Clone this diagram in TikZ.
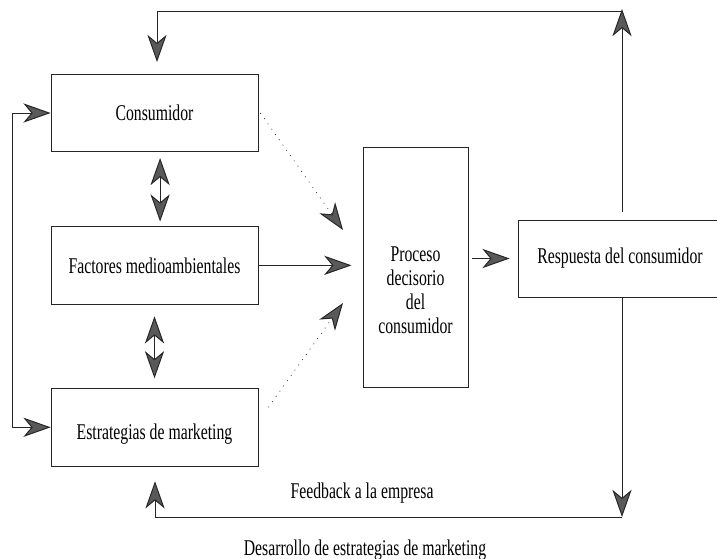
\documentclass[tikz,border=0pt]{standalone}
\usepackage{fontspec}
\setmainfont{Liberation Serif}[FakeStretch=0.7]
\usepackage{tikz}
\usetikzlibrary{arrows.meta}
\usetikzlibrary{positioning}
\usetikzlibrary{calc}
\tikzset{
  block_node/.style = {rectangle, draw=black!85, line width=0.5pt, inner sep=0pt,
    align=center, font=\fontsize{16}{17}\selectfont},
  text_node/.style = {inner sep=0pt, align=center, font=\fontsize{16}{17}\selectfont},
  big_tip/.tip = {Stealth[length=0.68cm, width=0.48cm, inset=0.2cm, fill=black!65, line width=0.7pt]},
  link/.style = {draw=black!85, line width=0.5pt, -big_tip},
  two_link/.style = {link, big_tip-big_tip},
  dot_link/.style = {link, dash pattern=on 0.6pt off 4pt}
}
\begin{document}
\begin{tikzpicture}[x=0.025cm, y=-0.025cm]
  \useasboundingbox (0,0) rectangle (717,559);
  % left column
  \node [block_node, minimum width=5.175cm, minimum height=1.93cm] (cons) at (154.5,113) {Consumidor};
  \node [block_node, minimum width=5.175cm, minimum height=1.93cm, below=1.86cm of cons] (fact) {Factores medioambientales};
  \node [block_node, minimum width=5.175cm, minimum height=1.93cm, below=2.1cm of fact, text height=0.7cm, text depth=0.1cm] (estr) {Estrategias de marketing};
  % middle and right
  \node [block_node, minimum width=2.625cm, minimum height=6cm] (proc) at (415.5,267) {};
  \node [text_node] (proctext) at (415.5,290) {Proceso\\decisorio\\del\\consumidor};
  \node [block_node, minimum width=5.1cm, minimum height=1.925cm] (resp) at (620,258.5) {Respuesta del consumidor};
  % labels
  \node [text_node] (feedback) at (362,493) {Feedback a la empresa};
  \node [text_node] (desarrollo) at (365,550) {Desarrollo de estrategias de marketing};

  \coordinate (ne) at (622,9);
  \coordinate (nw) at (157,11);
  \coordinate (se) at (622,517);
  \coordinate (sw) at (155,517);
  \coordinate (dtop) at (343,230);
  \coordinate (dbot) at (343,303);

  % loops
  \draw [link, shorten <=0.18cm] (resp.north -| ne) -- (ne);
  \draw [link, shorten >=0.3cm] (ne |- nw) -- (nw) -- (nw |- cons.north);
  \draw [two_link] (cons.west) -- ++(-0.95cm,0) |- (estr.west);
  \draw [link] (resp.south -| se) -- (se);
  \draw [link, shorten >=0.375cm] (se) -- (sw) -- (sw |- estr.south);
  % inner arrows
  \draw [two_link, shorten <=0.15cm, shorten >=0.12cm] ([xshift=0.14cm]cons.south) -- ([xshift=0.14cm]cons.south |- fact.north);
  \draw [two_link, shorten <=0.3cm, shorten >=0.25cm] (fact.south) -- (estr.north);
  \draw [link, shorten >=0.28cm] (fact.east) -- (fact.east -| proc.west);
  \draw [dot_link] ([xshift=0.05cm]cons.east) -- (dtop);
  \draw [dot_link] ([shift={(0.25cm,0.5cm)}]estr.east) -- (dbot);
  \draw [link, shorten <=0.1cm, shorten >=0.2cm] (proc.east |- resp.west) -- (resp.west);
\end{tikzpicture}
\end{document}
